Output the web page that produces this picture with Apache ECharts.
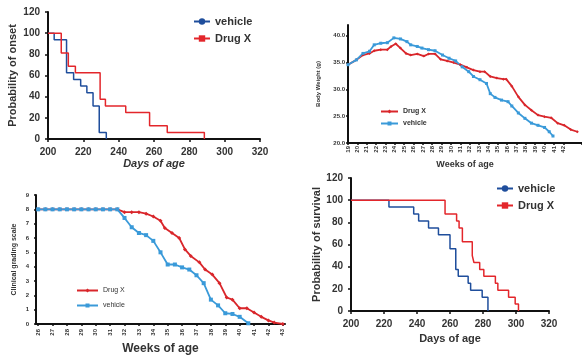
<!DOCTYPE html>
<html>
<head>
<meta charset="utf-8">
<script src="https://cdn.jsdelivr.net/npm/echarts@6/dist/echarts.min.js"></script>
<style>
  html, body { margin: 0; padding: 0; background: #fff; }
  #main { width: 582px; height: 356px; }
</style>
</head>
<body>
<div id="main"></div>
<script>
// ----- 左上: onset (Kaplan-Meier) -----
var onsetVehDays = [200, 203.5, 210.5, 214.5, 218.5, 222, 225.5, 229, 233];
var onsetVehVals = [100, 93.75, 62.5, 56.25, 50, 43.75, 31.25, 6.25, 0];
var onsetDrugDays = [200, 207.5, 211.5, 215.5, 229.5, 232.5, 244, 257.5, 267.5, 288.5];
var onsetDrugVals = [100, 81.25, 68.75, 62.5, 37.5, 31.25, 25, 12.5, 6.25, 0];

// ----- 右上: body weight -----
var bwVehWeeks = [19.0, 19.9, 20.6, 21.3, 21.8, 22.5, 23.2, 23.9, 24.6, 25.3, 25.7, 26.4, 26.9, 27.6,
  28.3, 29.1, 29.8, 30.5, 31.2, 31.9, 32.4, 33.1, 33.8, 34.2, 34.7, 35.4, 36.1, 36.5, 37.2, 37.9,
  38.6, 39.3, 40.0, 40.5, 40.9];
var bwVehVals = [34.6, 35.5, 36.7, 37.1, 38.3, 38.6, 38.7, 39.6, 39.4, 38.9, 38.3, 38.0, 37.7, 37.4,
  37.2, 36.4, 35.8, 35.3, 34.2, 33.3, 32.4, 31.8, 31.1, 29.2, 28.5, 28.0, 27.7, 26.9, 25.6, 24.6,
  23.7, 23.3, 22.9, 22.1, 21.3];
var bwDrugWeeks = [19.0, 19.9, 20.6, 21.3, 21.8, 22.5, 23.2, 23.6, 24.1, 24.6, 25.2, 25.7, 26.4, 27.1,
  27.6, 28.3, 28.9, 29.6, 30.3, 31.0, 31.7, 32.4, 33.1, 33.6, 34.2, 34.9, 35.6, 35.9, 36.5, 37.2,
  37.9, 38.6, 39.3, 40.0, 40.7, 41.4, 42.1, 42.8, 43.5];
var bwDrugVals = [34.6, 35.5, 36.4, 36.7, 37.2, 37.4, 37.4, 38.0, 38.5, 37.7, 36.7, 36.4, 36.6, 36.2,
  36.6, 36.6, 35.6, 35.3, 35.0, 34.6, 34.1, 33.6, 33.3, 33.3, 32.4, 32.1, 31.9, 31.9, 30.6, 28.6,
  27.1, 26.1, 25.2, 24.9, 24.7, 23.7, 23.3, 22.5, 22.1];
var bwWeekTicks = [19, 20, 21, 22, 23, 24, 25, 26, 27, 28, 29, 30, 31, 32, 33, 34, 35, 36, 37, 38, 39, 40, 41, 42, 43];

// ----- 左下: clinical grading -----
var cgVehWeeks = [26, 26.5, 27, 27.5, 28, 28.5, 29, 29.5, 30, 30.5, 31, 31.5, 32, 32.5, 33, 33.5, 34,
  34.5, 35, 35.5, 36, 36.5, 37, 37.5, 38, 38.5, 39, 39.5, 40, 40.6];
var cgVehVals = [8, 8, 8, 8, 8, 8, 8, 8, 8, 8, 8, 8, 7.4, 6.75, 6.35, 6.2, 5.8, 5.0, 4.15, 4.15, 3.95,
  3.8, 3.4, 2.85, 1.7, 1.3, 0.75, 0.7, 0.5, 0.05];
var cgDrugWeeks = [26, 26.5, 27, 27.5, 28, 28.5, 29, 29.5, 30, 30.5, 31, 31.5, 32, 32.5, 33, 33.5, 34,
  34.5, 34.8, 35.3, 35.8, 36.2, 36.6, 37.2, 37.6, 38.1, 38.6, 39.1, 39.5, 40, 40.5, 41, 41.5, 42, 42.4, 43];
var cgDrugVals = [8, 8, 8, 8, 8, 8, 8, 8, 8, 8, 8, 8, 7.8, 7.8, 7.8, 7.7, 7.5, 7.2, 6.7, 6.35, 6.0,
  5.2, 4.75, 4.3, 3.8, 3.45, 2.85, 1.85, 1.7, 1.1, 1.1, 0.8, 0.5, 0.25, 0.1, 0];
var cgWeekTicks = [26, 27, 28, 29, 30, 31, 32, 33, 34, 35, 36, 37, 38, 39, 40, 41, 42, 43];

// ----- 右下: survival -----
var survVehDays = [200, 223, 238, 241, 247, 253, 260, 263.5, 265, 271, 272.5, 279.5, 283];
var survVehVals = [100, 93.75, 87.5, 81.25, 75, 68.75, 56.25, 37.5, 31.25, 25, 18.75, 12.5, 0];
var survDrugDays = [200, 257, 264, 265.5, 267.5, 273.5, 274.5, 278, 280.5, 287.5, 289, 295.5, 299.5, 301.5];
var survDrugVals = [100, 87.5, 81.25, 75, 62.5, 50, 43.75, 37.5, 31.25, 25, 18.75, 12.5, 6.25, 0];

function pairs(xs, ys) {
  return xs.map(function (x, i) { return [x, ys[i]]; });
}

var chart = echarts.init(document.getElementById('main'));
var FONT = 'Liberation Sans';
var darkBlue = '#1f4e9c', red = '#e3262b', lightBlue = '#3a9ad9', red2 = '#d9262b';

function axisBase(extra) {
  var a = {
    axisLine: { show: true, lineStyle: { color: '#111', width: 2 } },
    axisTick: { show: true, length: 3, lineStyle: { color: '#111', width: 1.5 } },
    splitLine: { show: false },
    axisLabel: { color: '#333', fontFamily: FONT, fontWeight: 'bold', fontSize: 10 },
    nameLocation: 'middle',
    nameTextStyle: { color: '#333', fontFamily: FONT, fontWeight: 'bold', fontSize: 11 }
  };
  for (var k in extra) {
    if (typeof extra[k] === 'object' && a[k] && !Array.isArray(extra[k])) {
      a[k] = Object.assign({}, a[k], extra[k]);
    } else {
      a[k] = extra[k];
    }
  }
  return a;
}

var option = {
  backgroundColor: '#fff',
  animation: false,
  grid: [
    { left: 48, top: 12, width: 212, height: 127 },
    { left: 348, top: 25, width: 237, height: 118 },
    { left: 36, top: 195, width: 249, height: 131 },
    { left: 351, top: 178, width: 198, height: 133 }
  ],
  xAxis: [
    axisBase({ gridIndex: 0, type: 'value', min: 200, max: 320, interval: 20, name: 'Days of age', nameGap: 19,
      nameTextStyle: { fontStyle: 'italic' } }),
    axisBase({ gridIndex: 1, type: 'value', min: 19, max: 44, interval: 1, name: 'Weeks of age', nameGap: 17,
      nameTextStyle: { fontSize: 9 },
      axisTick: { length: 2 },
      axisLabel: { rotate: 90, fontSize: 6, showMaxLabel: false, margin: 3,
        customValues: bwWeekTicks } }),
    axisBase({ gridIndex: 2, type: 'value', min: 25.85, max: 43.15, name: 'Weeks of age', nameGap: 19,
      nameTextStyle: { fontSize: 12 },
      axisTick: { length: 2, customValues: cgWeekTicks },
      axisLabel: { rotate: 90, fontSize: 6, margin: 5, customValues: cgWeekTicks } }),
    axisBase({ gridIndex: 3, type: 'value', min: 200, max: 320, interval: 20, name: 'Days of age', nameGap: 22 })
  ],
  yAxis: [
    axisBase({ gridIndex: 0, type: 'value', min: 0, max: 120, interval: 20, name: 'Probability of onset', nameGap: 30 }),
    axisBase({ gridIndex: 1, type: 'value', min: 20, max: 42, interval: 5, name: 'Body Weight (g)', nameGap: 27,
      nameTextStyle: { fontSize: 6 },
      axisTick: { length: 2 },
      axisLabel: { fontSize: 6, margin: 3, showMaxLabel: false,
        formatter: function (v) { return v.toFixed(1); } } }),
    axisBase({ gridIndex: 2, type: 'value', min: 0, max: 9, interval: 1, name: 'Clinical grading scale', nameGap: 18,
      nameTextStyle: { fontSize: 7 },
      axisTick: { length: 2 },
      axisLabel: { fontSize: 6, margin: 7 } }),
    axisBase({ gridIndex: 3, type: 'value', min: 0, max: 120, interval: 20, name: 'Probability of survival', nameGap: 28 })
  ],
  legend: [
    { data: ['vehicle#1', 'Drug X#1'], orient: 'vertical', left: 193, top: 16, itemGap: 6,
      itemWidth: 16, itemHeight: 8,
      textStyle: { fontFamily: FONT, fontWeight: 'bold', fontSize: 11, color: '#333' } },
    { data: ['Drug X#2', 'vehicle#2'], orient: 'vertical', left: 380, top: 108, itemGap: 5,
      itemWidth: 17, itemHeight: 5,
      textStyle: { fontFamily: FONT, fontWeight: 'bold', fontSize: 7, color: '#333' } },
    { data: ['Drug X#3', 'vehicle#3'], orient: 'vertical', left: 76, top: 287, itemGap: 8,
      itemWidth: 21, itemHeight: 5,
      textStyle: { fontFamily: FONT, fontSize: 7, color: '#333' } },
    { data: ['vehicle#4', 'Drug X#4'], orient: 'vertical', left: 496, top: 183, itemGap: 6,
      itemWidth: 16, itemHeight: 8,
      textStyle: { fontFamily: FONT, fontWeight: 'bold', fontSize: 11, color: '#333' } }
  ].map(function (l) {
    l.formatter = function (n) { return n.split('#')[0]; };
    l.selectedMode = false;
    l.padding = 0;
    return l;
  }),
  series: [
    { name: 'vehicle#1', type: 'line', step: 'end', xAxisIndex: 0, yAxisIndex: 0,
      data: pairs(onsetVehDays, onsetVehVals), showSymbol: false, symbol: 'circle', symbolSize: 7,
      itemStyle: { color: darkBlue }, lineStyle: { color: darkBlue, width: 1.5 } },
    { name: 'Drug X#1', type: 'line', step: 'end', xAxisIndex: 0, yAxisIndex: 0,
      data: pairs(onsetDrugDays, onsetDrugVals), showSymbol: false, symbol: 'rect', symbolSize: 7,
      itemStyle: { color: red }, lineStyle: { color: red, width: 1.5 } },
    { name: 'Drug X#2', type: 'line', xAxisIndex: 1, yAxisIndex: 1,
      data: pairs(bwDrugWeeks, bwDrugVals), symbol: 'diamond', symbolSize: 3,
      itemStyle: { color: red2 }, lineStyle: { color: red2, width: 1.8 } },
    { name: 'vehicle#2', type: 'line', xAxisIndex: 1, yAxisIndex: 1,
      data: pairs(bwVehWeeks, bwVehVals), symbol: 'rect', symbolSize: 3,
      itemStyle: { color: lightBlue }, lineStyle: { color: lightBlue, width: 1.8 } },
    { name: 'Drug X#3', type: 'line', xAxisIndex: 2, yAxisIndex: 2,
      data: pairs(cgDrugWeeks, cgDrugVals), symbol: 'diamond', symbolSize: 4,
      itemStyle: { color: red2 }, lineStyle: { color: red2, width: 1.8 } },
    { name: 'vehicle#3', type: 'line', xAxisIndex: 2, yAxisIndex: 2,
      data: pairs(cgVehWeeks, cgVehVals), symbol: 'rect', symbolSize: 4,
      itemStyle: { color: lightBlue }, lineStyle: { color: lightBlue, width: 1.8 } },
    { name: 'vehicle#4', type: 'line', step: 'end', xAxisIndex: 3, yAxisIndex: 3,
      data: pairs(survVehDays, survVehVals), showSymbol: false, symbol: 'circle', symbolSize: 7,
      itemStyle: { color: darkBlue }, lineStyle: { color: darkBlue, width: 1.5 } },
    { name: 'Drug X#4', type: 'line', step: 'end', xAxisIndex: 3, yAxisIndex: 3,
      data: pairs(survDrugDays, survDrugVals), showSymbol: false, symbol: 'rect', symbolSize: 7,
      itemStyle: { color: red }, lineStyle: { color: red, width: 1.5 } }
  ]
};

chart.setOption(option);
</script>
</body>
</html>
